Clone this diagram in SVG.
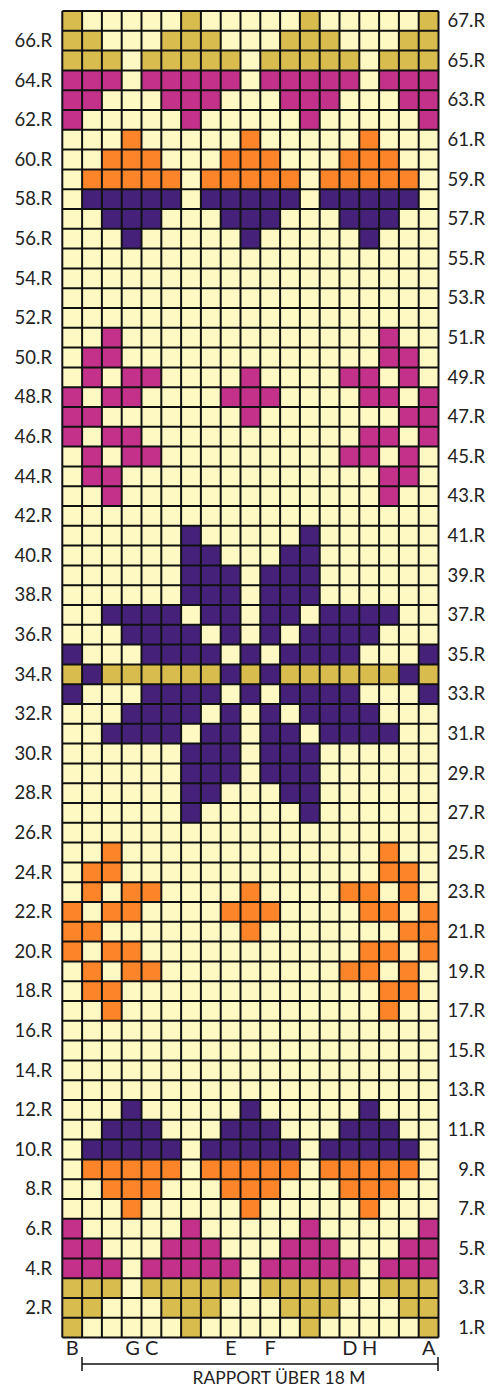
<svg xmlns="http://www.w3.org/2000/svg" width="488" height="1387" viewBox="0 0 488 1387">
<style>
.g{fill:#D9BC4E}.m{fill:#C4318A}.o{fill:#FC8429}.p{fill:#45217A}
.lbl{font-family:Lato,"Noto Sans",sans-serif;font-size:18.5px;fill:#222}
.l{text-anchor:end}.r{text-anchor:end}
.col{font-family:Lato,"Noto Sans",sans-serif;font-size:20px;fill:#222;text-anchor:middle}
</style>
<rect width="488" height="1387" fill="#fff"/>
<g id="chart" transform="translate(62.3,11) scale(19.8)">
<rect x="0" y="0" width="19" height="67" fill="#FEF8C3"/>
<g id="r67" class="g"><rect x="0" y="0" width="1" height="1"/><rect x="6" y="0" width="1" height="1"/><rect x="12" y="0" width="1" height="1"/><rect x="18" y="0" width="1" height="1"/></g>
<g id="r66" class="g"><rect x="0" y="1" width="2" height="1"/><rect x="5" y="1" width="3" height="1"/><rect x="11" y="1" width="3" height="1"/><rect x="17" y="1" width="2" height="1"/></g>
<g id="r65" class="g"><rect x="0" y="2" width="3" height="1"/><rect x="4" y="2" width="5" height="1"/><rect x="10" y="2" width="5" height="1"/><rect x="16" y="2" width="3" height="1"/></g>
<g id="r64" class="m"><rect x="0" y="3" width="3" height="1"/><rect x="4" y="3" width="5" height="1"/><rect x="10" y="3" width="5" height="1"/><rect x="16" y="3" width="3" height="1"/></g>
<g id="r63" class="m"><rect x="0" y="4" width="2" height="1"/><rect x="5" y="4" width="3" height="1"/><rect x="11" y="4" width="3" height="1"/><rect x="17" y="4" width="2" height="1"/></g>
<g id="r62" class="m"><rect x="0" y="5" width="1" height="1"/><rect x="6" y="5" width="1" height="1"/><rect x="12" y="5" width="1" height="1"/><rect x="18" y="5" width="1" height="1"/></g>
<g id="r61" class="o"><rect x="3" y="6" width="1" height="1"/><rect x="9" y="6" width="1" height="1"/><rect x="15" y="6" width="1" height="1"/></g>
<g id="r60" class="o"><rect x="2" y="7" width="3" height="1"/><rect x="8" y="7" width="3" height="1"/><rect x="14" y="7" width="3" height="1"/></g>
<g id="r59" class="o"><rect x="1" y="8" width="5" height="1"/><rect x="7" y="8" width="5" height="1"/><rect x="13" y="8" width="5" height="1"/></g>
<g id="r58" class="p"><rect x="1" y="9" width="5" height="1"/><rect x="7" y="9" width="5" height="1"/><rect x="13" y="9" width="5" height="1"/></g>
<g id="r57" class="p"><rect x="2" y="10" width="3" height="1"/><rect x="8" y="10" width="3" height="1"/><rect x="14" y="10" width="3" height="1"/></g>
<g id="r56" class="p"><rect x="3" y="11" width="1" height="1"/><rect x="9" y="11" width="1" height="1"/><rect x="15" y="11" width="1" height="1"/></g>
<g id="r51" class="m"><rect x="2" y="16" width="1" height="1"/><rect x="16" y="16" width="1" height="1"/></g>
<g id="r50" class="m"><rect x="1" y="17" width="2" height="1"/><rect x="16" y="17" width="2" height="1"/></g>
<g id="r49" class="m"><rect x="1" y="18" width="1" height="1"/><rect x="3" y="18" width="2" height="1"/><rect x="9" y="18" width="1" height="1"/><rect x="14" y="18" width="2" height="1"/><rect x="17" y="18" width="1" height="1"/></g>
<g id="r48" class="m"><rect x="0" y="19" width="1" height="1"/><rect x="2" y="19" width="2" height="1"/><rect x="8" y="19" width="3" height="1"/><rect x="15" y="19" width="2" height="1"/><rect x="18" y="19" width="1" height="1"/></g>
<g id="r47" class="m"><rect x="0" y="20" width="2" height="1"/><rect x="9" y="20" width="1" height="1"/><rect x="17" y="20" width="2" height="1"/></g>
<g id="r46" class="m"><rect x="0" y="21" width="1" height="1"/><rect x="2" y="21" width="2" height="1"/><rect x="15" y="21" width="2" height="1"/><rect x="18" y="21" width="1" height="1"/></g>
<g id="r45" class="m"><rect x="1" y="22" width="1" height="1"/><rect x="3" y="22" width="2" height="1"/><rect x="14" y="22" width="2" height="1"/><rect x="17" y="22" width="1" height="1"/></g>
<g id="r44" class="m"><rect x="1" y="23" width="2" height="1"/><rect x="16" y="23" width="2" height="1"/></g>
<g id="r43" class="m"><rect x="2" y="24" width="1" height="1"/><rect x="16" y="24" width="1" height="1"/></g>
<g id="r41" class="p"><rect x="6" y="26" width="1" height="1"/><rect x="12" y="26" width="1" height="1"/></g>
<g id="r40" class="p"><rect x="6" y="27" width="2" height="1"/><rect x="11" y="27" width="2" height="1"/></g>
<g id="r39" class="p"><rect x="6" y="28" width="3" height="1"/><rect x="10" y="28" width="3" height="1"/></g>
<g id="r38" class="p"><rect x="6" y="29" width="3" height="1"/><rect x="10" y="29" width="3" height="1"/></g>
<g id="r37" class="p"><rect x="2" y="30" width="4" height="1"/><rect x="7" y="30" width="2" height="1"/><rect x="10" y="30" width="2" height="1"/><rect x="13" y="30" width="4" height="1"/></g>
<g id="r36" class="p"><rect x="3" y="31" width="4" height="1"/><rect x="8" y="31" width="1" height="1"/><rect x="10" y="31" width="1" height="1"/><rect x="12" y="31" width="4" height="1"/></g>
<g id="r35" class="p"><rect x="0" y="32" width="1" height="1"/><rect x="4" y="32" width="4" height="1"/><rect x="9" y="32" width="1" height="1"/><rect x="11" y="32" width="4" height="1"/><rect x="18" y="32" width="1" height="1"/></g>
<g id="r34"><g class="g"><rect x="0" y="33" width="1" height="1"/><rect x="2" y="33" width="6" height="1"/><rect x="9" y="33" width="1" height="1"/><rect x="11" y="33" width="6" height="1"/><rect x="18" y="33" width="1" height="1"/></g><g class="p"><rect x="1" y="33" width="1" height="1"/><rect x="8" y="33" width="1" height="1"/><rect x="10" y="33" width="1" height="1"/><rect x="17" y="33" width="1" height="1"/></g></g>
<g id="r33" class="p"><rect x="0" y="34" width="1" height="1"/><rect x="4" y="34" width="4" height="1"/><rect x="9" y="34" width="1" height="1"/><rect x="11" y="34" width="4" height="1"/><rect x="18" y="34" width="1" height="1"/></g>
<g id="r32" class="p"><rect x="3" y="35" width="4" height="1"/><rect x="8" y="35" width="1" height="1"/><rect x="10" y="35" width="1" height="1"/><rect x="12" y="35" width="4" height="1"/></g>
<g id="r31" class="p"><rect x="2" y="36" width="4" height="1"/><rect x="7" y="36" width="2" height="1"/><rect x="10" y="36" width="2" height="1"/><rect x="13" y="36" width="4" height="1"/></g>
<g id="r30" class="p"><rect x="6" y="37" width="3" height="1"/><rect x="10" y="37" width="3" height="1"/></g>
<g id="r29" class="p"><rect x="6" y="38" width="3" height="1"/><rect x="10" y="38" width="3" height="1"/></g>
<g id="r28" class="p"><rect x="6" y="39" width="2" height="1"/><rect x="11" y="39" width="2" height="1"/></g>
<g id="r27" class="p"><rect x="6" y="40" width="1" height="1"/><rect x="12" y="40" width="1" height="1"/></g>
<g id="r25" class="o"><rect x="2" y="42" width="1" height="1"/><rect x="16" y="42" width="1" height="1"/></g>
<g id="r24" class="o"><rect x="1" y="43" width="2" height="1"/><rect x="16" y="43" width="2" height="1"/></g>
<g id="r23" class="o"><rect x="1" y="44" width="1" height="1"/><rect x="3" y="44" width="2" height="1"/><rect x="9" y="44" width="1" height="1"/><rect x="14" y="44" width="2" height="1"/><rect x="17" y="44" width="1" height="1"/></g>
<g id="r22" class="o"><rect x="0" y="45" width="1" height="1"/><rect x="2" y="45" width="2" height="1"/><rect x="8" y="45" width="3" height="1"/><rect x="15" y="45" width="2" height="1"/><rect x="18" y="45" width="1" height="1"/></g>
<g id="r21" class="o"><rect x="0" y="46" width="2" height="1"/><rect x="9" y="46" width="1" height="1"/><rect x="17" y="46" width="2" height="1"/></g>
<g id="r20" class="o"><rect x="0" y="47" width="1" height="1"/><rect x="2" y="47" width="2" height="1"/><rect x="15" y="47" width="2" height="1"/><rect x="18" y="47" width="1" height="1"/></g>
<g id="r19" class="o"><rect x="1" y="48" width="1" height="1"/><rect x="3" y="48" width="2" height="1"/><rect x="14" y="48" width="2" height="1"/><rect x="17" y="48" width="1" height="1"/></g>
<g id="r18" class="o"><rect x="1" y="49" width="2" height="1"/><rect x="16" y="49" width="2" height="1"/></g>
<g id="r17" class="o"><rect x="2" y="50" width="1" height="1"/><rect x="16" y="50" width="1" height="1"/></g>
<g id="r12" class="p"><rect x="3" y="55" width="1" height="1"/><rect x="9" y="55" width="1" height="1"/><rect x="15" y="55" width="1" height="1"/></g>
<g id="r11" class="p"><rect x="2" y="56" width="3" height="1"/><rect x="8" y="56" width="3" height="1"/><rect x="14" y="56" width="3" height="1"/></g>
<g id="r10" class="p"><rect x="1" y="57" width="5" height="1"/><rect x="7" y="57" width="5" height="1"/><rect x="13" y="57" width="5" height="1"/></g>
<g id="r9" class="o"><rect x="1" y="58" width="5" height="1"/><rect x="7" y="58" width="5" height="1"/><rect x="13" y="58" width="5" height="1"/></g>
<g id="r8" class="o"><rect x="2" y="59" width="3" height="1"/><rect x="8" y="59" width="3" height="1"/><rect x="14" y="59" width="3" height="1"/></g>
<g id="r7" class="o"><rect x="3" y="60" width="1" height="1"/><rect x="9" y="60" width="1" height="1"/><rect x="15" y="60" width="1" height="1"/></g>
<g id="r6" class="m"><rect x="0" y="61" width="1" height="1"/><rect x="6" y="61" width="1" height="1"/><rect x="12" y="61" width="1" height="1"/><rect x="18" y="61" width="1" height="1"/></g>
<g id="r5" class="m"><rect x="0" y="62" width="2" height="1"/><rect x="5" y="62" width="3" height="1"/><rect x="11" y="62" width="3" height="1"/><rect x="17" y="62" width="2" height="1"/></g>
<g id="r4" class="m"><rect x="0" y="63" width="3" height="1"/><rect x="4" y="63" width="5" height="1"/><rect x="10" y="63" width="5" height="1"/><rect x="16" y="63" width="3" height="1"/></g>
<g id="r3" class="g"><rect x="0" y="64" width="3" height="1"/><rect x="4" y="64" width="5" height="1"/><rect x="10" y="64" width="5" height="1"/><rect x="16" y="64" width="3" height="1"/></g>
<g id="r2" class="g"><rect x="0" y="65" width="2" height="1"/><rect x="5" y="65" width="3" height="1"/><rect x="11" y="65" width="3" height="1"/><rect x="17" y="65" width="2" height="1"/></g>
<g id="r1" class="g"><rect x="0" y="66" width="1" height="1"/><rect x="6" y="66" width="1" height="1"/><rect x="12" y="66" width="1" height="1"/><rect x="18" y="66" width="1" height="1"/></g>
<path id="gridlines" fill="none" stroke="#111" stroke-width="2" vector-effect="non-scaling-stroke" d="M0 0V67M1 0V67M2 0V67M3 0V67M4 0V67M5 0V67M6 0V67M7 0V67M8 0V67M9 0V67M10 0V67M11 0V67M12 0V67M13 0V67M14 0V67M15 0V67M16 0V67M17 0V67M18 0V67M19 0V67M0 0H19M0 1H19M0 2H19M0 3H19M0 4H19M0 5H19M0 6H19M0 7H19M0 8H19M0 9H19M0 10H19M0 11H19M0 12H19M0 13H19M0 14H19M0 15H19M0 16H19M0 17H19M0 18H19M0 19H19M0 20H19M0 21H19M0 22H19M0 23H19M0 24H19M0 25H19M0 26H19M0 27H19M0 28H19M0 29H19M0 30H19M0 31H19M0 32H19M0 33H19M0 34H19M0 35H19M0 36H19M0 37H19M0 38H19M0 39H19M0 40H19M0 41H19M0 42H19M0 43H19M0 44H19M0 45H19M0 46H19M0 47H19M0 48H19M0 49H19M0 50H19M0 51H19M0 52H19M0 53H19M0 54H19M0 55H19M0 56H19M0 57H19M0 58H19M0 59H19M0 60H19M0 61H19M0 62H19M0 63H19M0 64H19M0 65H19M0 66H19M0 67H19"/>
</g>
<g id="labels-left" class="lbl l">
<text x="52" y="47.0">66.R</text><text x="52" y="86.6">64.R</text><text x="52" y="126.2">62.R</text><text x="52" y="165.8">60.R</text><text x="52" y="205.4">58.R</text><text x="52" y="245.0">56.R</text><text x="52" y="284.6">54.R</text><text x="52" y="324.2">52.R</text><text x="52" y="363.8">50.R</text><text x="52" y="403.4">48.R</text><text x="52" y="443.0">46.R</text><text x="52" y="482.6">44.R</text><text x="52" y="522.2">42.R</text><text x="52" y="561.8">40.R</text><text x="52" y="601.4">38.R</text><text x="52" y="641.0">36.R</text><text x="52" y="680.6">34.R</text><text x="52" y="720.2">32.R</text><text x="52" y="759.8">30.R</text><text x="52" y="799.4">28.R</text><text x="52" y="839.0">26.R</text><text x="52" y="878.6">24.R</text><text x="52" y="918.2">22.R</text><text x="52" y="957.8">20.R</text><text x="52" y="997.4">18.R</text><text x="52" y="1037.0">16.R</text><text x="52" y="1076.6">14.R</text><text x="52" y="1116.2">12.R</text><text x="52" y="1155.8">10.R</text><text x="52" y="1195.4">8.R</text><text x="52" y="1235.0">6.R</text><text x="52" y="1274.6">4.R</text><text x="52" y="1314.2">2.R</text>
</g>
<g id="labels-right" class="lbl r">
<text x="485" y="27.2">67.R</text><text x="485" y="66.8">65.R</text><text x="485" y="106.4">63.R</text><text x="485" y="146.0">61.R</text><text x="485" y="185.6">59.R</text><text x="485" y="225.2">57.R</text><text x="485" y="264.8">55.R</text><text x="485" y="304.4">53.R</text><text x="485" y="344.0">51.R</text><text x="485" y="383.6">49.R</text><text x="485" y="423.2">47.R</text><text x="485" y="462.8">45.R</text><text x="485" y="502.4">43.R</text><text x="485" y="542.0">41.R</text><text x="485" y="581.6">39.R</text><text x="485" y="621.2">37.R</text><text x="485" y="660.8">35.R</text><text x="485" y="700.4">33.R</text><text x="485" y="740.0">31.R</text><text x="485" y="779.6">29.R</text><text x="485" y="819.2">27.R</text><text x="485" y="858.8">25.R</text><text x="485" y="898.4">23.R</text><text x="485" y="938.0">21.R</text><text x="485" y="977.6">19.R</text><text x="485" y="1017.2">17.R</text><text x="485" y="1056.8">15.R</text><text x="485" y="1096.4">13.R</text><text x="485" y="1136.0">11.R</text><text x="485" y="1175.6">9.R</text><text x="485" y="1215.2">7.R</text><text x="485" y="1254.8">5.R</text><text x="485" y="1294.4">3.R</text><text x="485" y="1334.0">1.R</text>
</g>
<g id="column-letters" class="col">
<text x="72.2" y="1355">B</text><text x="132.5" y="1355">G</text><text x="151.6" y="1355">C</text><text x="230.8" y="1355">E</text><text x="270.2" y="1355">F</text><text x="349.8" y="1355">D</text><text x="369.6" y="1355">H</text><text x="428.8" y="1355">A</text>
</g>
<g id="rapport">
<path d="M82 1364H438M82 1357V1371M438 1357V1371" fill="none" stroke="#111" stroke-width="1.5"/>
<text x="279" y="1384" font-family="Lato, 'Noto Sans', sans-serif" font-size="16.5" fill="#222" text-anchor="middle" textLength="173" lengthAdjust="spacingAndGlyphs">RAPPORT ÜBER 18 M</text>
</g>
</svg>
